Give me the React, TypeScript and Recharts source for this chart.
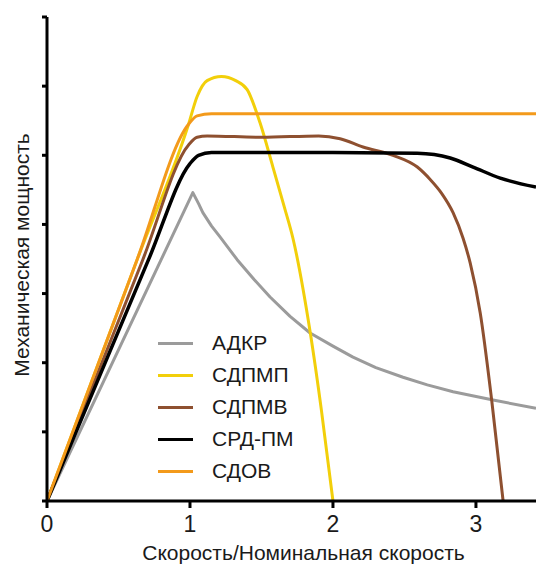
import React from 'react';
import { LineChart, Line, XAxis, YAxis, Label } from 'recharts';

// Speed / nominal speed (x) and mechanical power (y)
const adkrX = [0, 1.02, 1.06, 1.09, 1.15, 1.21, 1.33, 1.45, 1.56, 1.7, 1.84, 2.0, 2.14, 2.3, 2.49, 2.66, 2.84, 3.12, 3.42];
const adkrY = [0, 4.46, 4.3, 4.17, 3.98, 3.82, 3.49, 3.2, 2.95, 2.67, 2.43, 2.24, 2.08, 1.93, 1.79, 1.68, 1.58, 1.46, 1.34];

const sdpmpX = [0, 0.63, 0.99, 1.05, 1.12, 1.22, 1.32, 1.4, 1.49, 1.58, 1.66, 1.72, 1.84, 1.92, 2.0];
const sdpmpY = [0, 3.49, 5.45, 5.85, 6.08, 6.14, 6.08, 5.95, 5.47, 4.83, 4.25, 3.8, 2.45, 1.3, 0];

const sdpmvX = [0, 0.67, 0.99, 1.05, 1.12, 1.5, 1.9, 2.05, 2.21, 2.42, 2.59, 2.68, 2.76, 2.84, 2.91, 2.96, 3.03, 3.11, 3.19];
const sdpmvY = [0, 3.49, 5.15, 5.26, 5.28, 5.26, 5.28, 5.24, 5.12, 5.0, 4.83, 4.65, 4.45, 4.17, 3.8, 3.44, 2.72, 1.46, 0];

const srdX = [0, 0.71, 1.0, 1.06, 1.15, 2.0, 2.59, 2.82, 2.98, 3.17, 3.42];
const srdY = [0, 3.49, 4.88, 5.0, 5.04, 5.04, 5.03, 4.96, 4.83, 4.67, 4.54];

const sdovX = [0, 0.63, 0.99, 1.05, 1.15, 3.42];
const sdovY = [0, 3.49, 5.45, 5.57, 5.6, 5.6];

const xTicks = [0, 1, 2, 3];
const yTicks = [0, 1, 2, 3, 4, 5, 6, 7];

const toPoints = (xs: number[], ys: number[]) => xs.map((x, i) => ({ x, y: ys[i] }));

// АДКР has a sharp peak, so it is drawn straight between points
const SERIES = [
    { name: 'АДКР', data: toPoints(adkrX, adkrY), color: '#9b9b9b', width: 3, curve: 'linear' },
    { name: 'СДПМП', data: toPoints(sdpmpX, sdpmpY), color: '#f2cf0a', width: 3, curve: 'monotone' },
    { name: 'СДПМВ', data: toPoints(sdpmvX, sdpmvY), color: '#8e5030', width: 3, curve: 'monotone' },
    { name: 'СРД-ПМ', data: toPoints(srdX, srdY), color: '#000000', width: 3.5, curve: 'monotone' },
    { name: 'СДОВ', data: toPoints(sdovX, sdovY), color: '#f39a1b', width: 3, curve: 'monotone' },
];

const FONT = '"Liberation Sans", Arial, sans-serif';

// legend sits inside the plot, drawn as plain html over the svg
const LegendBox = () => (
    <div style={{ position: 'absolute', left: 158, top: 327, fontFamily: FONT }}>
        {SERIES.map((s) => (
            <div key={s.name} style={{ display: 'flex', alignItems: 'center', height: 32 }}>
                <div style={{ width: 35, height: 3, background: s.color, marginRight: 19 }} />
                <span style={{ fontSize: 21, color: '#1a1a1a' }}>{s.name}</span>
            </div>
        ))}
    </div>
);

export default function App() {
    return (
        <div style={{ position: 'absolute', left: 0, top: 0, width: 539, height: 567, background: '#fff' }}>
            <LineChart width={539} height={567} margin={{ top: 17, right: 3, left: 0, bottom: 0 }}>
                <XAxis
                    type="number"
                    dataKey="x"
                    domain={[0, 3.42]}
                    ticks={xTicks}
                    allowDataOverflow
                    height={66}
                    stroke="#000"
                    strokeWidth={3}
                    tickSize={7}
                    tick={{ fill: '#1a1a1a', fontSize: 23, fontFamily: FONT, dy: 6 }}
                >
                    <Label
                        content={({ viewBox }: any) => (
                            <text
                                x={viewBox.x + viewBox.width / 2 + 12}
                                y={viewBox.y + 59}
                                textAnchor="middle"
                                fontSize={21}
                                fontFamily={FONT}
                                fill="#1a1a1a"
                            >
                                Скорость/Номинальная скорость
                            </text>
                        )}
                    />
                </XAxis>
                <YAxis
                    type="number"
                    domain={[0, 7]}
                    ticks={yTicks}
                    width={47}
                    stroke="#000"
                    strokeWidth={3}
                    tickSize={5}
                    tickFormatter={() => ''}
                >
                    <Label
                        content={({ viewBox }: any) => {
                            const cx = 21;
                            const cy = viewBox.y + viewBox.height / 2 - 4;
                            return (
                                <text
                                    x={cx}
                                    y={cy}
                                    transform={`rotate(-90 ${cx} ${cy})`}
                                    textAnchor="middle"
                                    dominantBaseline="central"
                                    fontSize={21}
                                    fontFamily={FONT}
                                    fill="#1a1a1a"
                                >
                                    Механическая мощность
                                </text>
                            );
                        }}
                    />
                </YAxis>
                {SERIES.map((s) => (
                    <Line
                        key={s.name}
                        data={s.data}
                        dataKey="y"
                        name={s.name}
                        type={s.curve as any}
                        stroke={s.color}
                        strokeWidth={s.width}
                        strokeLinejoin="round"
                        dot={false}
                        activeDot={false}
                        isAnimationActive={false}
                    />
                ))}
            </LineChart>
            <LegendBox />
        </div>
    );
}
